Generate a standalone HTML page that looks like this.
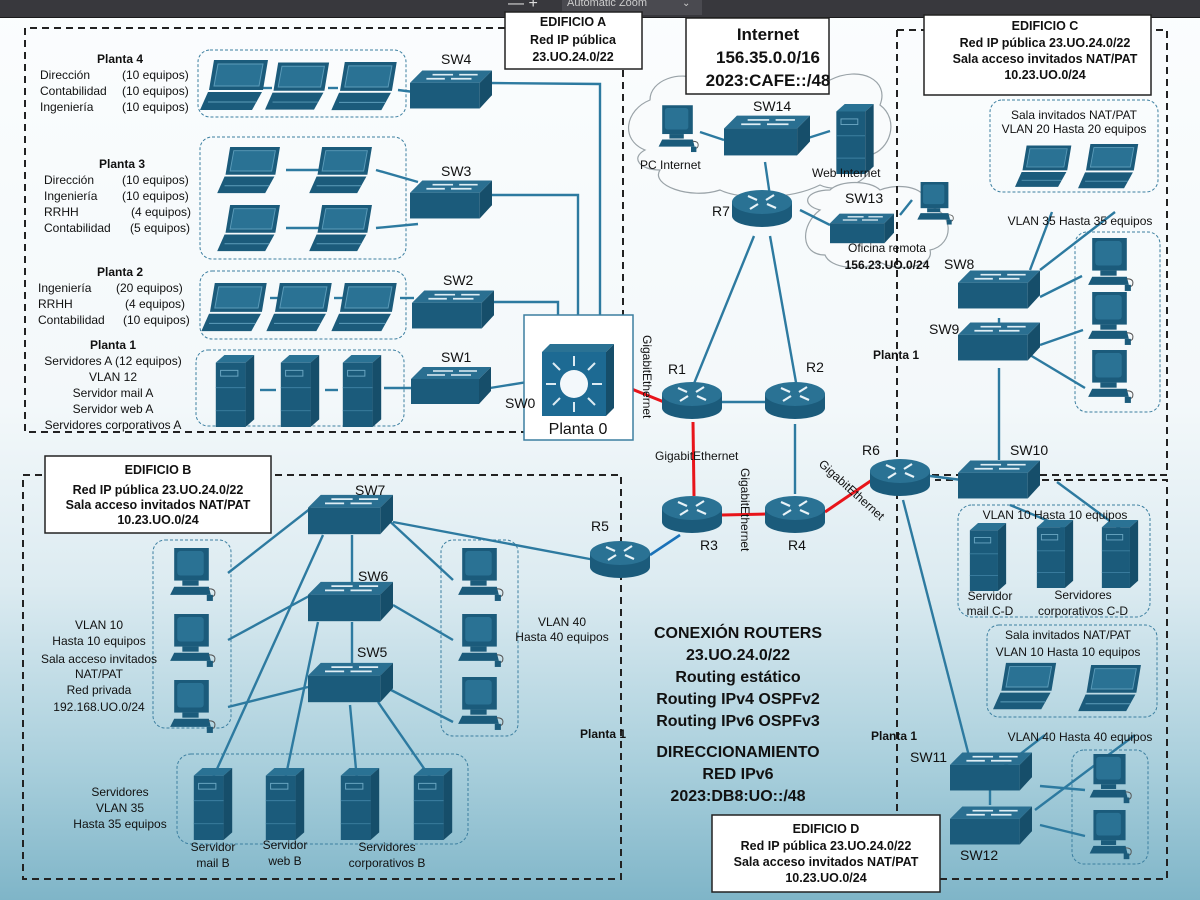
<!DOCTYPE html>
<html><head><meta charset="utf-8"><style>
html,body{margin:0;padding:0;}
body{width:1200px;height:900px;overflow:hidden;background:linear-gradient(180deg,#fbfdfe 0%,#f3f8fa 45%,#dcebf1 65%,#a9cfdc 85%,#7fb5c8 100%);font-family:"Liberation Sans",sans-serif;}
svg{position:absolute;left:0;top:0;}
text{font-family:"Liberation Sans",sans-serif;fill:#111;}
</style></head><body>
<svg width="1200" height="900" viewBox="0 0 1200 900" xmlns="http://www.w3.org/2000/svg">
<defs>
<symbol id="sw" viewBox="0 0 80 40">
<polygon points="0,14 12,2 80,2 68,14" fill="#2a6f91"/>
<rect x="0" y="14" width="68" height="25" fill="#1b5b7b"/>
<polygon points="68,14 80,2 80,26 68,39" fill="#164e6a"/>
<g stroke="#dfeef5" stroke-width="1.6"><line x1="22" y1="6" x2="42" y2="6"/><line x1="48" y1="6" x2="66" y2="6"/><line x1="16" y1="10" x2="34" y2="10"/><line x1="40" y1="10" x2="60" y2="10"/></g>
</symbol>
<symbol id="rt" viewBox="0 0 60 40">
<path d="M0,14 v14 a30,11 0 0 0 60,0 v-14 z" fill="#1b5b7b"/>
<ellipse cx="30" cy="14" rx="30" ry="12" fill="#2a7294"/>
<g stroke="#e8f3f8" stroke-width="2.2"><line x1="16" y1="8" x2="25" y2="12"/><line x1="44" y1="20" x2="35" y2="16"/><line x1="42" y1="7" x2="34" y2="12"/><line x1="18" y1="21" x2="26" y2="16"/></g>
</symbol>
<symbol id="lp" viewBox="0 0 70 52">
<polygon points="14,0 68,0 63,30 9,30" fill="#1b5b7b"/>
<polygon points="18,4 63,4 59,26 14,26" fill="#2a7294" stroke="#5c9cba" stroke-width="1"/>
<polygon points="8,32 62,32 52,50 0,50" fill="#1b5b7b"/>
<line x1="8" y1="42" x2="56" y2="42" stroke="#5c9cba"/>
</symbol>
<symbol id="pc" viewBox="0 0 50 55">
<rect x="8" y="0" width="34" height="32" fill="#1b5b7b"/>
<rect x="11" y="3" width="26" height="24" rx="3" fill="#2a7294"/>
<rect x="16" y="32" width="16" height="5" fill="#1b5b7b"/>
<polygon points="8,38 42,38 44,46 4,46" fill="#1b5b7b"/>
<path d="M42,40 q6,0 6,4 q0,4 -4,4" stroke="#555" fill="none"/>
<rect x="40" y="46" width="6" height="6" fill="#1b5b7b"/>
</symbol>
<symbol id="sv" viewBox="0 0 40 75">
<polygon points="0,8 9,0 40,0 31,8" fill="#2a7294"/>
<rect x="0" y="8" width="31" height="67" fill="#1b5b7b"/>
<polygon points="31,8 40,0 40,67 31,75" fill="#164e6a"/>
<rect x="5" y="16" width="18" height="6" fill="none" stroke="#6aa6c2"/>
<line x1="0" y1="34" x2="31" y2="34" stroke="#3c7fa0"/>
<line x1="0" y1="58" x2="31" y2="58" stroke="#3c7fa0"/>
</symbol>
</defs>

<rect x="0" y="0" width="1200" height="18" fill="#38383d"/>
<rect x="0" y="17" width="1200" height="1" fill="#1a1a1c"/>
<rect x="562" y="0" width="140" height="15" fill="#4a4a50"/>
<text x="508" y="8" style="fill:#ddd;font-size:16px">— +</text>
<text x="567" y="6" style="fill:#ccc;font-size:11px">Automatic Zoom</text>
<text x="682" y="6" style="fill:#ccc;font-size:10px">⌄</text>

<g fill="#f9fbfc" stroke="#9aa3a8" stroke-width="1.2">
<path d="M645,150 C620,140 625,110 650,100 C650,80 680,70 700,80 L830,80 C860,65 890,80 880,105 C900,120 890,150 870,155 C880,180 840,195 820,185 C790,200 740,200 720,190 C690,200 650,185 660,170 C640,170 630,158 645,150 Z"/>
<path d="M820,210 C800,205 805,190 830,190 C840,180 870,180 880,190 C900,182 930,188 925,205 C955,210 955,245 930,250 C935,268 895,272 880,262 C860,272 830,268 825,255 C800,255 800,225 820,210 Z"/>
</g>

<g fill="none" stroke="#222" stroke-width="2" stroke-dasharray="7,5">
<path d="M505,28 H25 V432 H524"/>
<path d="M623,70 V315"/>
<rect x="23" y="475" width="598" height="404"/>
<path d="M897,30 V475 H1167 V30 H1151"/>
<path d="M897,30 H924"/>
<path d="M897,480 V815 M940,879 H1167 V480 H935"/>
</g>

<g fill="none" stroke="#3c7fa0" stroke-width="1" stroke-dasharray="3,2">
<rect x="198" y="50" width="208" height="67" rx="12"/>
<rect x="200" y="137" width="206" height="122" rx="12"/>
<rect x="200" y="271" width="206" height="68" rx="12"/>
<rect x="196" y="350" width="208" height="76" rx="12"/>
<rect x="153" y="540" width="78" height="188" rx="12"/>
<rect x="441" y="540" width="77" height="196" rx="12"/>
<rect x="177" y="754" width="291" height="90" rx="14"/>
<rect x="990" y="100" width="168" height="92" rx="12"/>
<rect x="1075" y="232" width="85" height="180" rx="12"/>
<rect x="958" y="505" width="192" height="112" rx="14"/>
<rect x="987" y="625" width="170" height="92" rx="12"/>
<rect x="1072" y="750" width="76" height="114" rx="12"/>
</g>

<g stroke="#2d7aa0" stroke-width="2.4" fill="none">
<line x1="260" y1="88" x2="272" y2="88"/><line x1="328" y1="88" x2="338" y2="88"/><line x1="398" y1="90" x2="414" y2="92"/>
<polyline points="490,83 600,84 600,322"/>
<line x1="286" y1="170" x2="325" y2="170"/><line x1="286" y1="228" x2="325" y2="228"/>
<line x1="376" y1="170" x2="418" y2="182"/><line x1="376" y1="228" x2="418" y2="224"/>
<polyline points="490,195 578,195 578,322"/>
<line x1="270" y1="298" x2="282" y2="298"/><line x1="334" y1="298" x2="346" y2="298"/><line x1="400" y1="298" x2="414" y2="298"/>
<polyline points="490,302 558,302 558,322"/>
<line x1="260" y1="390" x2="276" y2="390"/><line x1="325" y1="390" x2="338" y2="390"/><line x1="384" y1="388" x2="412" y2="388"/>
<line x1="490" y1="388" x2="540" y2="380"/>
<line x1="700" y1="132" x2="724" y2="140"/><line x1="808" y1="138" x2="830" y2="131"/>
<line x1="765" y1="162" x2="770" y2="196"/>
<line x1="800" y1="210" x2="830" y2="225"/><line x1="900" y1="215" x2="912" y2="200"/>
<line x1="754" y1="236" x2="693" y2="386"/><line x1="770" y1="236" x2="797" y2="388"/>
<line x1="722" y1="402" x2="767" y2="402"/>
<line x1="795" y1="424" x2="795" y2="494"/>
<line x1="1030" y1="270" x2="1052" y2="212"/><line x1="1040" y1="270" x2="1115" y2="212"/>
<line x1="1040" y1="297" x2="1082" y2="276"/><line x1="1040" y1="345" x2="1083" y2="330"/><line x1="1030" y1="355" x2="1085" y2="388"/>
<line x1="999" y1="368" x2="999" y2="460"/><line x1="999" y1="318" x2="999" y2="326"/>
<line x1="930" y1="476" x2="962" y2="480"/>
<line x1="1010" y1="505" x2="1070" y2="530"/><line x1="1057" y1="482" x2="1122" y2="530"/>
<line x1="903" y1="500" x2="970" y2="760"/>
<line x1="1002" y1="768" x2="1045" y2="735"/><line x1="1035" y1="810" x2="1135" y2="735"/>
<line x1="1040" y1="786" x2="1085" y2="790"/><line x1="1040" y1="825" x2="1085" y2="836"/>
<line x1="990" y1="790" x2="990" y2="805"/>
<line x1="595" y1="560" x2="393" y2="522"/>
<line x1="311" y1="508" x2="228" y2="573"/><line x1="383" y1="515" x2="453" y2="580"/>
<line x1="352" y1="535" x2="352" y2="585"/><line x1="352" y1="622" x2="352" y2="665"/>
<line x1="311" y1="595" x2="228" y2="640"/><line x1="393" y1="605" x2="453" y2="640"/>
<line x1="308" y1="687" x2="228" y2="707"/><line x1="391" y1="690" x2="453" y2="722"/>
<line x1="323" y1="535" x2="212" y2="780"/><line x1="318" y1="622" x2="285" y2="780"/>
<line x1="350" y1="705" x2="357" y2="780"/><line x1="378" y1="702" x2="432" y2="780"/>
</g>
<line x1="680" y1="535" x2="650" y2="555" stroke="#1a72b8" stroke-width="2.6"/>

<g stroke="#e8141a" stroke-width="3">
<line x1="614" y1="382" x2="664" y2="402"/>
<line x1="693" y1="422" x2="694" y2="496"/>
<line x1="722" y1="515" x2="767" y2="514"/>
<line x1="825" y1="512" x2="872" y2="480"/>
</g>

<use href="#lp" x="200" y="60" width="70" height="52"/><use href="#lp" x="265" y="62" width="66" height="50"/><use href="#lp" x="330" y="62" width="70" height="50"/>
<use href="#lp" x="213" y="147" width="73" height="48"/><use href="#lp" x="305" y="147" width="73" height="48"/>
<use href="#lp" x="213" y="205" width="73" height="48"/><use href="#lp" x="305" y="205" width="73" height="48"/>
<use href="#lp" x="200" y="283" width="70" height="50"/><use href="#lp" x="265" y="283" width="70" height="50"/><use href="#lp" x="330" y="283" width="70" height="50"/>
<use href="#sv" x="211" y="355" width="48" height="72"/><use href="#sv" x="276" y="355" width="48" height="72"/><use href="#sv" x="338" y="355" width="48" height="72"/>
<use href="#sw" x="410" y="68" width="82" height="42"/>
<use href="#sw" x="410" y="178" width="82" height="42"/>
<use href="#sw" x="412" y="288" width="82" height="42"/>
<use href="#sw" x="410" y="365" width="82" height="40"/>
<rect x="524" y="315" width="109" height="125" fill="#fff" stroke="#3c7fa0" stroke-width="1.5"/>
<polygon points="542,352 550,344 614,344 606,352" fill="#2a7294"/>
<rect x="542" y="352" width="64" height="64" fill="#1d6a93"/>
<polygon points="606,352 614,344 614,408 606,416" fill="#164e6a"/>
<circle cx="574" cy="384" r="14" fill="#f3f8fb"/>
<g stroke="#dcebf3" stroke-width="2"><line x1="574" y1="356" x2="574" y2="366"/><line x1="574" y1="402" x2="574" y2="412"/><line x1="546" y1="384" x2="556" y2="384"/><line x1="592" y1="384" x2="602" y2="384"/><line x1="553" y1="363" x2="560" y2="370"/><line x1="588" y1="398" x2="595" y2="405"/><line x1="595" y1="363" x2="588" y2="370"/><line x1="560" y1="398" x2="553" y2="405"/></g>
<text x="578" y="434" text-anchor="middle" font-size="16">Planta 0</text>

<use href="#pc" x="655" y="105" width="45" height="50"/>
<use href="#sw" x="724" y="112" width="86" height="46"/>
<use href="#sv" x="832" y="104" width="46" height="70"/>
<use href="#rt" x="732" y="186" width="60" height="44"/>
<use href="#sw" x="829" y="212" width="66" height="32"/>
<use href="#pc" x="912" y="182" width="45" height="45"/>

<use href="#rt" x="662" y="378" width="60" height="44"/>
<use href="#rt" x="765" y="378" width="60" height="44"/>
<use href="#rt" x="662" y="492" width="60" height="44"/>
<use href="#rt" x="765" y="492" width="60" height="44"/>
<use href="#rt" x="590" y="537" width="60" height="44"/>
<use href="#rt" x="870" y="455" width="60" height="44"/>

<use href="#lp" x="1015" y="143" width="58" height="48"/><use href="#lp" x="1078" y="143" width="62" height="48"/>
<use href="#pc" x="1082" y="238" width="55" height="56"/><use href="#pc" x="1082" y="292" width="55" height="56"/><use href="#pc" x="1082" y="350" width="55" height="56"/>
<use href="#sw" x="958" y="268" width="82" height="42"/>
<use href="#sw" x="958" y="320" width="82" height="42"/>
<use href="#sw" x="958" y="458" width="82" height="42"/>
<use href="#sv" x="963" y="523" width="50" height="68"/><use href="#sv" x="1030" y="520" width="50" height="68"/><use href="#sv" x="1095" y="520" width="50" height="68"/>
<use href="#lp" x="993" y="662" width="65" height="50"/><use href="#lp" x="1078" y="665" width="65" height="48"/>
<use href="#sw" x="950" y="750" width="82" height="42"/>
<use href="#sw" x="950" y="804" width="82" height="42"/>
<use href="#pc" x="1082" y="754" width="55" height="52"/><use href="#pc" x="1082" y="810" width="55" height="52"/>

<use href="#sw" x="308" y="492" width="85" height="44"/>
<use href="#sw" x="308" y="579" width="85" height="44"/>
<use href="#sw" x="308" y="660" width="85" height="44"/>
<use href="#pc" x="164" y="548" width="55" height="56"/><use href="#pc" x="164" y="614" width="55" height="56"/><use href="#pc" x="164" y="680" width="55" height="56"/>
<use href="#pc" x="452" y="548" width="55" height="56"/><use href="#pc" x="452" y="614" width="55" height="56"/><use href="#pc" x="452" y="677" width="55" height="56"/>
<use href="#sv" x="188" y="768" width="50" height="72"/><use href="#sv" x="260" y="768" width="50" height="72"/><use href="#sv" x="335" y="768" width="50" height="72"/><use href="#sv" x="408" y="768" width="50" height="72"/>

<g fill="#fff" stroke="#222" stroke-width="1.5">
<rect x="505" y="12" width="137" height="57"/>
<rect x="686" y="18" width="143" height="76"/>
<rect x="924" y="15" width="227" height="80"/>
<rect x="45" y="456" width="226" height="77"/>
<rect x="712" y="815" width="228" height="77"/>
</g>
<g font-weight="bold" font-size="12.5" text-anchor="middle">
<text x="573" y="26">EDIFICIO A</text><text x="573" y="44">Red IP pública</text><text x="573" y="61">23.UO.24.0/22</text>
<text x="1045" y="30">EDIFICIO C</text><text x="1045" y="47">Red IP pública 23.UO.24.0/22</text><text x="1045" y="63">Sala acceso invitados NAT/PAT</text><text x="1045" y="79">10.23.UO.0/24</text>
<text x="158" y="474">EDIFICIO B</text><text x="158" y="494">Red IP pública 23.UO.24.0/22</text><text x="158" y="509">Sala acceso invitados NAT/PAT</text><text x="158" y="524">10.23.UO.0/24</text>
<text x="826" y="833">EDIFICIO D</text><text x="826" y="850">Red IP pública 23.UO.24.0/22</text><text x="826" y="866">Sala acceso invitados NAT/PAT</text><text x="826" y="882">10.23.UO.0/24</text>
</g>
<g font-weight="bold" font-size="17" text-anchor="middle">
<text x="768" y="40">Internet</text><text x="768" y="63">156.35.0.0/16</text><text x="768" y="86">2023:CAFE::/48</text>
</g>
<g font-weight="bold" font-size="16" text-anchor="middle">
<text x="738" y="638">CONEXIÓN ROUTERS</text><text x="738" y="660">23.UO.24.0/22</text><text x="738" y="682">Routing estático</text><text x="738" y="704">Routing IPv4 OSPFv2</text><text x="738" y="726">Routing IPv6 OSPFv3</text>
<text x="738" y="757">DIRECCIONAMIENTO</text><text x="738" y="779">RED IPv6</text><text x="738" y="801">2023:DB8:UO::/48</text>
</g>

<g font-size="12">
<text x="120" y="63" font-weight="bold" text-anchor="middle">Planta 4</text>
<text x="40" y="79">Dirección</text><text x="122" y="79">(10 equipos)</text>
<text x="40" y="95">Contabilidad</text><text x="122" y="95">(10 equipos)</text>
<text x="40" y="111">Ingeniería</text><text x="122" y="111">(10 equipos)</text>
<text x="122" y="168" font-weight="bold" text-anchor="middle">Planta 3</text>
<text x="44" y="184">Dirección</text><text x="122" y="184">(10 equipos)</text>
<text x="44" y="200">Ingeniería</text><text x="122" y="200">(10 equipos)</text>
<text x="44" y="216">RRHH</text><text x="131" y="216">(4 equipos)</text>
<text x="44" y="232">Contabilidad</text><text x="130" y="232">(5 equipos)</text>
<text x="120" y="276" font-weight="bold" text-anchor="middle">Planta 2</text>
<text x="38" y="292">Ingeniería</text><text x="116" y="292">(20 equipos)</text>
<text x="38" y="308">RRHH</text><text x="125" y="308">(4 equipos)</text>
<text x="38" y="324">Contabilidad</text><text x="123" y="324">(10 equipos)</text>
<g text-anchor="middle"><text x="113" y="349" font-weight="bold">Planta 1</text>
<text x="113" y="365">Servidores A (12 equipos)</text><text x="113" y="381">VLAN 12</text><text x="113" y="397">Servidor mail A</text><text x="113" y="413">Servidor web A</text><text x="113" y="429">Servidores corporativos A</text></g>
</g>
<g font-size="14">
<text x="441" y="64">SW4</text><text x="441" y="176">SW3</text><text x="443" y="285">SW2</text><text x="441" y="362">SW1</text><text x="505" y="408">SW0</text>
<text x="753" y="111">SW14</text><text x="845" y="203">SW13</text><text x="712" y="216">R7</text>
<text x="668" y="374">R1</text><text x="806" y="372">R2</text><text x="700" y="550">R3</text><text x="788" y="550">R4</text><text x="591" y="531">R5</text><text x="862" y="455">R6</text>
<text x="944" y="269">SW8</text><text x="929" y="334">SW9</text><text x="1010" y="455">SW10</text><text x="910" y="762">SW11</text><text x="960" y="860">SW12</text>
<text x="355" y="495">SW7</text><text x="358" y="581">SW6</text><text x="357" y="657">SW5</text>
</g>
<g font-size="12">
<text x="640" y="169">PC Internet</text><text x="812" y="177">Web Internet</text>
<text x="887" y="252" text-anchor="middle">Oficina remota</text>
<text x="887" y="269" text-anchor="middle" font-weight="bold">156.23.UO.0/24</text>
<text x="655" y="460">GigabitEthernet</text>
<text transform="translate(643,335) rotate(90)">GigabitEthernet</text>
<text transform="translate(741,468) rotate(90)">GigabitEthernet</text>
<text transform="translate(818,465) rotate(42)">GigabitEthernet</text>
<text x="1074" y="119" text-anchor="middle">Sala invitados NAT/PAT</text><text x="1074" y="133" text-anchor="middle">VLAN 20 Hasta 20 equipos</text>
<text x="1080" y="225" text-anchor="middle">VLAN 35 Hasta 35 equipos</text>
<text x="873" y="359" font-weight="bold">Planta 1</text>
<text x="1055" y="519" text-anchor="middle">VLAN 10 Hasta 10 equipos</text>
<text x="990" y="600" text-anchor="middle">Servidor</text><text x="990" y="615" text-anchor="middle">mail C-D</text>
<text x="1083" y="599" text-anchor="middle">Servidores</text><text x="1083" y="615" text-anchor="middle">corporativos C-D</text>
<text x="1068" y="639" text-anchor="middle">Sala invitados NAT/PAT</text><text x="1068" y="656" text-anchor="middle">VLAN 10 Hasta 10 equipos</text>
<text x="1080" y="741" text-anchor="middle">VLAN 40 Hasta 40 equipos</text>
<text x="871" y="740" font-weight="bold">Planta 1</text>
<text x="580" y="738" font-weight="bold">Planta 1</text>
<g text-anchor="middle">
<text x="99" y="629">VLAN 10</text><text x="99" y="645">Hasta 10 equipos</text>
<text x="99" y="663">Sala acceso invitados</text><text x="99" y="678">NAT/PAT</text><text x="99" y="694">Red privada</text><text x="99" y="711">192.168.UO.0/24</text>
<text x="562" y="626">VLAN 40</text><text x="562" y="641">Hasta 40 equipos</text>
<text x="120" y="796">Servidores</text><text x="120" y="812">VLAN 35</text><text x="120" y="828">Hasta 35 equipos</text>
<text x="213" y="851">Servidor</text><text x="213" y="867">mail B</text>
<text x="285" y="849">Servidor</text><text x="285" y="865">web B</text>
<text x="387" y="851">Servidores</text><text x="387" y="867">corporativos B</text>
</g>
</g>
</svg>
</body></html>
